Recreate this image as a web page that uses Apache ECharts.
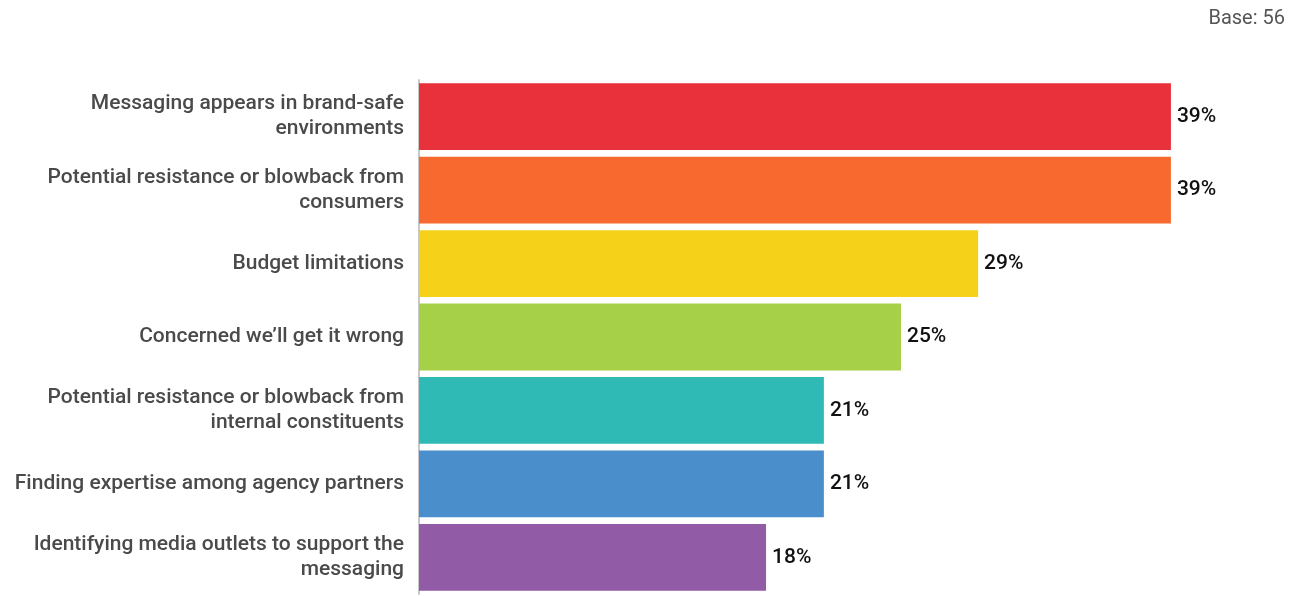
<!DOCTYPE html>
<html>
<head>
<meta charset="utf-8">
<script src="https://cdn.jsdelivr.net/npm/echarts@6/dist/echarts.min.js"></script>
<style>
  html, body { margin: 0; padding: 0; background: #ffffff; }
  #chart { width: 1289px; height: 596px; }
</style>
</head>
<body>
<div id="chart"></div>
<script>
// Barriers ranked by share of respondents
const categories = [
  'Messaging appears in brand-safe\nenvironments',
  'Potential resistance or blowback from\nconsumers',
  'Budget limitations',
  'Concerned we\u2019ll get it wrong',
  'Potential resistance or blowback from\ninternal constituents',
  'Finding expertise among agency partners',
  'Identifying media outlets to support the\nmessaging'
];
const values = [39, 39, 29, 25, 21, 21, 18];
const barColors = ['#E8313A', '#F7692F', '#F6D11A', '#A5D047', '#2FBAB5', '#4A8ECB', '#915BA5'];
const baseNote = 'Base: 56';

const chart = echarts.init(document.getElementById('chart'), null, { renderer: 'canvas' });

chart.setOption({
  backgroundColor: '#ffffff',
  animation: false,
  title: {
    text: baseNote,
    right: 4,
    top: 9,
    padding: 0,
    textStyle: { fontFamily: 'Roboto', fontSize: 20, fontWeight: 'normal', color: '#555555' }
  },
  grid: { left: 419, top: 80, width: 867.6, height: 514, containLabel: false },
  xAxis: {
    type: 'value',
    min: 0,
    max: 45,
    show: false
  },
  yAxis: {
    type: 'category',
    data: categories,
    inverse: true,
    axisLine: { show: true, lineStyle: { color: '#c8c8c8', width: 2 } },
    axisTick: { show: false },
    axisLabel: {
      margin: 15,
      fontFamily: 'Roboto',
      fontSize: 21,
      fontWeight: 500,
      lineHeight: 25,
      color: '#4a4a4a',
      align: 'right'
    }
  },
  series: [{
    type: 'bar',
    data: values.map((v, i) => ({ value: v, itemStyle: { color: barColors[i] } })),
    barCategoryGap: '9%',
    label: {
      show: true,
      position: 'right',
      distance: 6,
      formatter: p => p.value + '%',
      fontFamily: 'Roboto',
      fontSize: 21,
      fontWeight: 500,
      color: '#111111'
    }
  }]
});
</script>
</body>
</html>
